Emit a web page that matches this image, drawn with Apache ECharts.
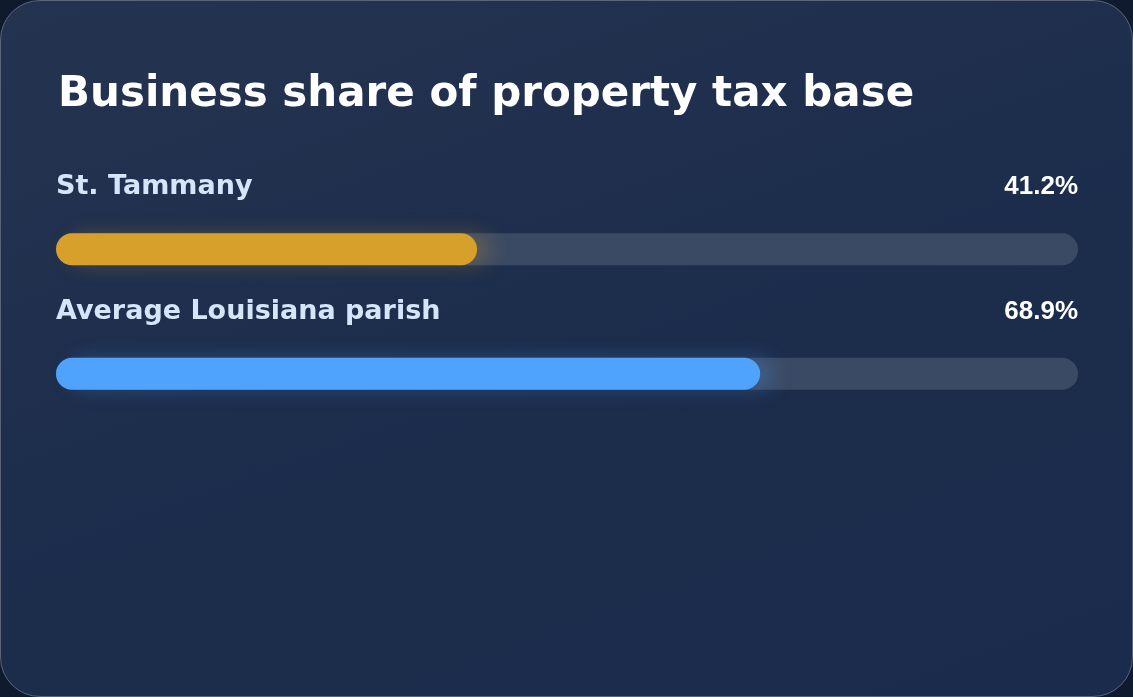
<!DOCTYPE html>
<html><head><meta charset="utf-8">
<script src="https://cdn.jsdelivr.net/npm/echarts@6/dist/echarts.min.js"></script>
<style>
html,body{margin:0;padding:0;width:1133px;height:697px;background:#0f1a2e;overflow:hidden}
#card{position:absolute;left:0;top:0;width:1131px;height:695px;border:1px solid #5a6578;border-radius:40px;
background:linear-gradient(160deg,#243450 0%,#1d2d4c 45%,#1a2b4b 100%);overflow:hidden}
#c{width:1131px;height:695px}
</style></head><body>
<div id="card"><div id="c"></div></div>
<script>
const categories = ["St. Tammany", "Average Louisiana parish"];
const values = [41.2, 68.9];
const colors = ["#d6a02b", "#4fa3fd"];
const chart = echarts.init(document.getElementById('c'));
chart.setOption({
  animation:false,
  title:{text:"Business share of property tax base",left:52,top:68,
    textStyle:{color:"#ffffff",fontSize:42,fontWeight:"bold",fontFamily:"DejaVu Sans"}},
  grid:{left:55,right:54,top:186,bottom:260},
  xAxis:{type:"value",min:0,max:100,show:false},
  yAxis:{type:"category",data:categories,inverse:true,show:false},
  series:[
    {type:"bar",barWidth:32,barGap:"-100%",silent:true,
     data:categories.map(()=>100),
     itemStyle:{color:"#3b4a64",borderRadius:16},
     label:{show:true,position:["100%",-46],align:"right",verticalAlign:"middle",
       formatter:p=>values[p.dataIndex].toFixed(1)+"%",
       color:"#ffffff",fontSize:26,fontWeight:"bold",fontFamily:"Liberation Sans"}},
    {type:"bar",barWidth:32,
     data:values.map((v,i)=>({value:v,itemStyle:{color:colors[i],borderRadius:16,
       shadowColor:colors[i]+"40",shadowBlur:20,shadowOffsetX:14}})),
     label:{show:true,position:[0,-46],align:"left",verticalAlign:"middle",
       formatter:p=>categories[p.dataIndex],
       color:"#d5e5fa",fontSize:27,fontWeight:"bold",fontFamily:"DejaVu Sans"}}
  ]
});
</script></body></html>
